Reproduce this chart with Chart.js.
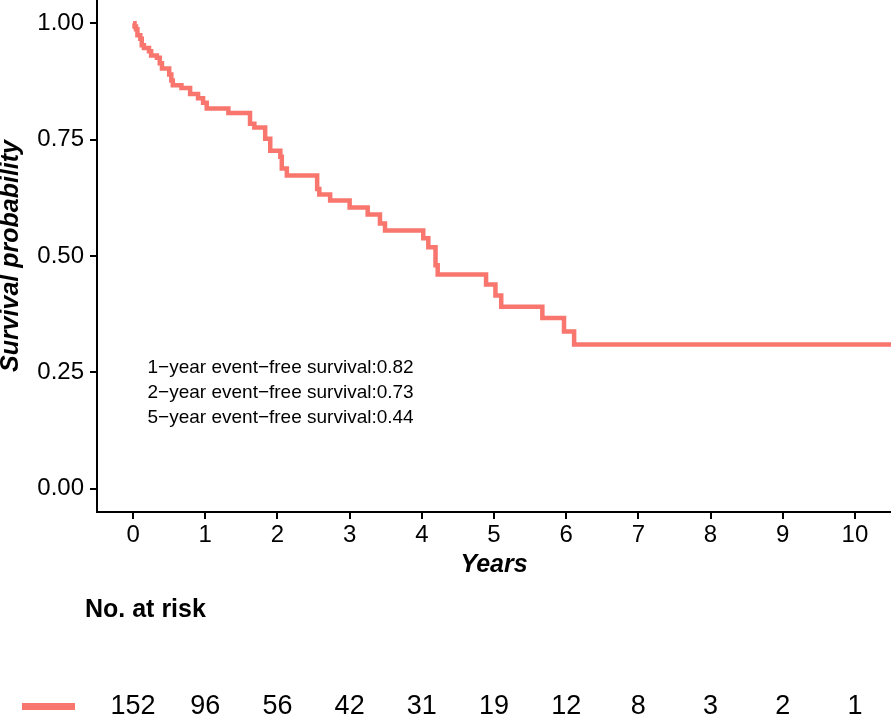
<!DOCTYPE html>
<html>
<head>
<meta charset="utf-8">
<script src="https://cdn.jsdelivr.net/npm/chart.js@4.4.1/dist/chart.umd.min.js"></script>
<style>
  html, body { margin: 0; padding: 0; background: #fff; overflow: hidden; }
</style>
</head>
<body>
<canvas id="km" width="891" height="717"></canvas>
<script>
const times = [0, 0.02, 0.04, 0.06, 0.10, 0.12, 0.15, 0.22, 0.25, 0.33, 0.37, 0.40, 0.50, 0.53, 0.55,
  0.67, 0.79, 0.90, 0.97, 1.02, 1.32, 1.62, 1.68, 1.83, 1.90, 2.04, 2.06, 2.13, 2.55, 2.58, 2.73,
  3.00, 3.25, 3.42, 3.49, 4.02, 4.09, 4.19, 4.22, 4.89, 5.02, 5.10, 5.67, 5.97, 6.11, 10.5];
const survival = [1.000, 0.993, 0.987, 0.974, 0.967, 0.953, 0.947, 0.940, 0.931, 0.926, 0.914, 0.903, 0.890, 0.877, 0.867,
  0.861, 0.848, 0.839, 0.829, 0.817, 0.807, 0.784, 0.776, 0.752, 0.726, 0.713, 0.688, 0.673, 0.644, 0.632, 0.619,
  0.604, 0.589, 0.570, 0.555, 0.538, 0.519, 0.480, 0.460, 0.439, 0.415, 0.391, 0.367, 0.338, 0.310, 0.310];
const xTicks = [0, 1, 2, 3, 4, 5, 6, 7, 8, 9, 10];
const yTicks = [0, 0.25, 0.5, 0.75, 1];
const atRisk = [152, 96, 56, 42, 31, 19, 12, 8, 3, 2, 1];
const notes = [
  '1\u2212year event\u2212free survival:0.82',
  '2\u2212year event\u2212free survival:0.73',
  '5\u2212year event\u2212free survival:0.44'
];

const lineColor = '#F8766D';
const FONT = '"Liberation Sans", Arial, Helvetica, sans-serif';

Chart.defaults.color = '#000';
Chart.defaults.font.family = FONT;

// annotation lines + the "No. at risk" table under the plot
const riskTable = {
  id: 'riskTable',
  afterDraw(chart) {
    const { ctx } = chart;
    const { x, y } = chart.scales;
    ctx.save();
    ctx.fillStyle = '#000';
    ctx.textBaseline = 'middle';
    ctx.textAlign = 'left';

    ctx.font = '19px ' + FONT;
    const nx = x.getPixelForValue(0.2);
    const ny = y.getPixelForValue(0.259);
    notes.forEach((n, i) => ctx.fillText(n, nx, ny + i * 25));

    ctx.font = 'bold 25px ' + FONT;
    ctx.fillText('No. at risk', 85, 610);

    ctx.fillStyle = lineColor;
    ctx.fillRect(22, 703, 53, 7);

    ctx.fillStyle = '#000';
    ctx.textAlign = 'center';
    ctx.font = '27px ' + FONT;
    xTicks.forEach((t, i) => ctx.fillText(String(atRisk[i]), x.getPixelForValue(t), 707));
    ctx.restore();
  }
};

new Chart(document.getElementById('km'), {
  type: 'line',
  data: {
    datasets: [{
      data: times.map((t, i) => ({ x: t, y: survival[i] })),
      borderColor: lineColor,
      borderWidth: 4.5,
      pointRadius: 0,
      stepped: 'before',
      fill: false
    }]
  },
  options: {
    responsive: false,
    maintainAspectRatio: false,
    devicePixelRatio: 1,
    animation: false,
    layout: { padding: { top: 0, right: 0, left: 0, bottom: 139 } },
    plugins: { legend: { display: false }, tooltip: { enabled: false } },
    scales: {
      x: {
        type: 'linear',
        min: -0.5,
        max: 10.5,
        afterBuildTicks: (s) => { s.ticks = xTicks.map(v => ({ value: v })); },
        afterFit: (s) => { s.height = 66; s.paddingLeft = 0; s.paddingRight = 0; },
        ticks: { font: { size: 24 }, padding: 2, maxRotation: 0, autoSkip: false },
        grid: { drawOnChartArea: false, drawTicks: true, tickLength: 7, color: '#000', lineWidth: 2 },
        border: { display: true, color: '#000', width: 2 },
        title: { display: true, text: 'Years', font: { size: 25, weight: 'bold', style: 'italic', lineHeight: 1.0 }, padding: { top: 0, bottom: 0 } }
      },
      y: {
        type: 'linear',
        min: -0.05,
        max: 1.05,
        afterBuildTicks: (s) => { s.ticks = yTicks.map(v => ({ value: v })); },
        afterFit: (s) => { s.width = 97; s.paddingTop = 0; s.paddingBottom = 0; },
        ticks: { font: { size: 24 }, padding: 6, callback: (v) => v.toFixed(2) },
        grid: { drawOnChartArea: false, drawTicks: true, tickLength: 7, color: '#000', lineWidth: 2 },
        border: { display: true, color: '#000', width: 2 },
        title: { display: true, text: 'Survival probability', font: { size: 25, weight: 'bold', style: 'italic', lineHeight: 0.85 }, padding: 0 }
      }
    }
  },
  plugins: [riskTable]
});
</script>
</body>
</html>
